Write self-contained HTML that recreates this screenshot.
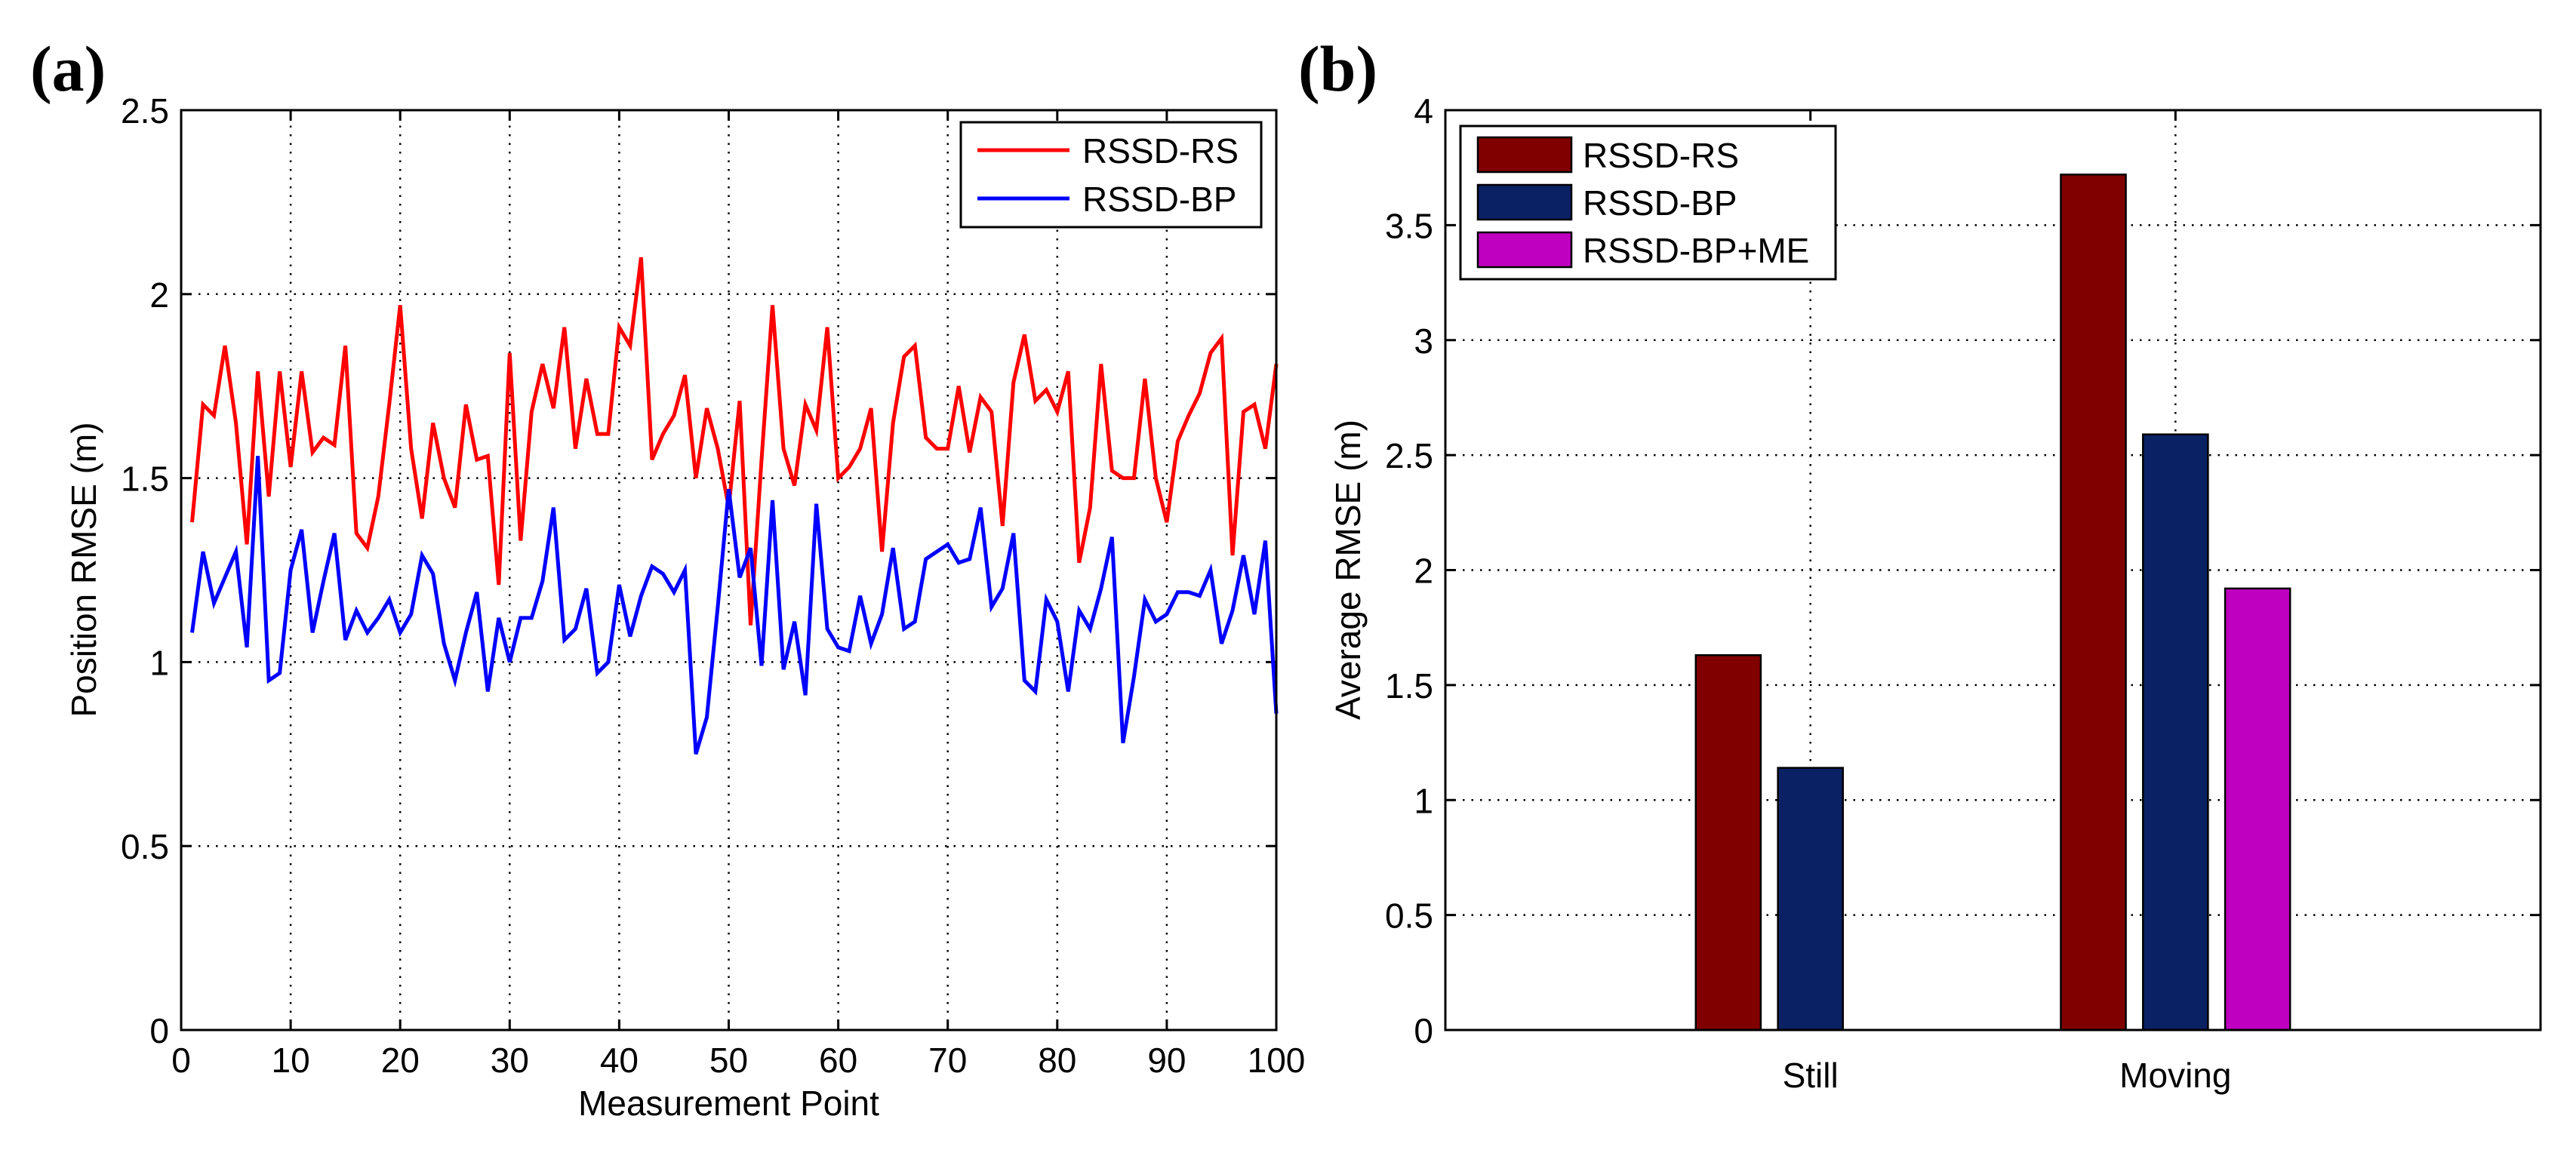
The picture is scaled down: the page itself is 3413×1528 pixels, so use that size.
<!DOCTYPE html>
<html><head><meta charset="utf-8">
<style>
html,body{margin:0;padding:0;background:#fff;}
svg{display:block;}
text{font-family:"Liberation Sans",Arial,sans-serif;fill:#000;}
.lbl{font-family:"Liberation Serif",serif;font-weight:bold;}
</style></head>
<body>
<svg id="chart" width="3413" height="1528" viewBox="0 0 3413 1528" xmlns="http://www.w3.org/2000/svg">
  <rect x="0" y="0" width="3413" height="1528" fill="#fff"/>
  <text class="lbl" x="40" y="120" font-size="86">(a)</text>
  <text class="lbl" x="1720" y="120" font-size="86">(b)</text>
  <g id="plotA"></g>
  <g id="plotB"></g>
</svg>
<script>
const pointIdx = Array.from({length:100},(_,i)=>i+1);
const rsValues = [1.38,1.70,1.67,1.86,1.65,1.32,1.79,1.45,1.79,1.53,1.79,1.57,1.61,1.59,1.86,1.35,1.31,1.45,1.70,1.97,1.58,1.39,1.65,1.50,1.42,1.70,1.55,1.56,1.21,1.84,1.33,1.68,1.81,1.69,1.91,1.58,1.77,1.62,1.62,1.91,1.86,2.10,1.55,1.62,1.67,1.78,1.50,1.69,1.58,1.42,1.71,1.10,1.55,1.97,1.58,1.48,1.70,1.63,1.91,1.50,1.53,1.58,1.69,1.30,1.65,1.83,1.86,1.61,1.58,1.58,1.75,1.57,1.72,1.68,1.37,1.76,1.89,1.71,1.74,1.68,1.79,1.27,1.42,1.81,1.52,1.50,1.50,1.77,1.50,1.38,1.60,1.67,1.73,1.84,1.88,1.29,1.68,1.70,1.58,1.81];
const bpValues = [1.08,1.30,1.16,1.23,1.30,1.04,1.56,0.95,0.97,1.25,1.36,1.08,1.22,1.35,1.06,1.14,1.08,1.12,1.17,1.08,1.13,1.29,1.24,1.05,0.95,1.08,1.19,0.92,1.12,1.00,1.12,1.12,1.22,1.42,1.06,1.09,1.20,0.97,1.00,1.21,1.07,1.18,1.26,1.24,1.19,1.25,0.75,0.85,1.15,1.47,1.23,1.31,0.99,1.44,0.98,1.11,0.91,1.43,1.09,1.04,1.03,1.18,1.05,1.13,1.31,1.09,1.11,1.28,1.30,1.32,1.27,1.28,1.42,1.15,1.20,1.35,0.95,0.92,1.17,1.11,0.92,1.14,1.09,1.20,1.34,0.78,0.96,1.17,1.11,1.13,1.19,1.19,1.18,1.25,1.05,1.14,1.29,1.13,1.33,0.86];
const xTicksA = [0,10,20,30,40,50,60,70,80,90,100];
const yTicksA = [0,0.5,1,1.5,2,2.5];
const yTickLabelsA = ["0","0.5","1","1.5","2","2.5"];

const categories = ["Still","Moving"];
const barRS = [1.63,3.72];
const barBP = [1.14,2.59];
const barME = [0,1.92];
const yTicksB = [0,0.5,1,1.5,2,2.5,3,3.5,4];
const yTickLabelsB = ["0","0.5","1","1.5","2","2.5","3","3.5","4"];

const NS="http://www.w3.org/2000/svg";
const FS=46;
function mk(parent,tag,attrs){const e=document.createElementNS(NS,tag);for(const k in attrs)e.setAttribute(k,attrs[k]);parent.appendChild(e);return e;}

// ---------- Panel A ----------
const A=document.getElementById('plotA');
const ax0=240,ax1=1691,ay0=1365,ay1=146;
const xA=v=>ax0+(v-0)/(100-0)*(ax1-ax0);
const yA=v=>ay0-(v-0)/(2.5-0)*(ay0-ay1);
const bgA=mk(A,'rect',{x:ax0,y:ay1,width:ax1-ax0,height:ay0-ay1,fill:'#fff'});


xTicksA.forEach((t,i)=>{
  const x=xA(t);
  if(t>0&&t<100){const g=mk(A,'line',{x1:x,y1:ay0,x2:x,y2:ay1,stroke:'#000','stroke-width':2.5,'stroke-dasharray':'2.5 9'});
  
  }
  mk(A,'line',{x1:x,y1:ay0,x2:x,y2:ay0-14,stroke:'#000','stroke-width':3});
  mk(A,'line',{x1:x,y1:ay1,x2:x,y2:ay1+14,stroke:'#000','stroke-width':3});
  const tx=mk(A,'text',{x:x,y:ay0+56,'font-size':FS,'text-anchor':'middle'});tx.textContent=t;
  
  
});
yTicksA.forEach((t,i)=>{
  const y=yA(t);
  if(t>0&&t<2.5){const g=mk(A,'line',{x1:ax0,y1:y,x2:ax1,y2:y,stroke:'#000','stroke-width':2.5,'stroke-dasharray':'2.5 9'});
  
  }
  mk(A,'line',{x1:ax0,y1:y,x2:ax0+14,y2:y,stroke:'#000','stroke-width':3});
  mk(A,'line',{x1:ax1,y1:y,x2:ax1-14,y2:y,stroke:'#000','stroke-width':3});
  const tx=mk(A,'text',{x:ax0-16,y:y+17,'font-size':FS,'text-anchor':'end'});tx.textContent=yTickLabelsA[i];
  
  
});
function series(vals,color,name){
  const d=vals.map((v,i)=>(i?'L':'M')+xA(pointIdx[i]).toFixed(1)+' '+yA(v).toFixed(1)).join(' ');
  const p=mk(A,'path',{d:d,fill:'none',stroke:color,'stroke-width':5,'stroke-linejoin':'miter'});
  
  
}
series(rsValues,'#ff0000','line-rssd-rs');
series(bpValues,'#0000ff','line-rssd-bp');
const boxA=mk(A,'rect',{x:ax0,y:ay1,width:ax1-ax0,height:ay0-ay1,fill:'none',stroke:'#000','stroke-width':3});


const xl=mk(A,'text',{x:(ax0+ax1)/2,y:1478,'font-size':FS,'text-anchor':'middle'});xl.textContent='Measurement Point';


const yl=mk(A,'text',{x:0,y:0,'font-size':FS,'text-anchor':'middle',transform:'translate(127,755) rotate(-90)'});yl.textContent='Position RMSE (m)';


// legend A
const legA=mk(A,'g',{});


mk(legA,'rect',{x:1273,y:162,width:398,height:139,fill:'#fff',stroke:'#000','stroke-width':3});
[['RSSD-RS','#ff0000',199],['RSSD-BP','#0000ff',263]].forEach(([n,c,y])=>{
  const g=mk(legA,'g',{});
  
  
  mk(g,'line',{x1:1295,y1:y,x2:1417,y2:y,stroke:c,'stroke-width':5});
  const t=mk(g,'text',{x:1434,y:y+17,'font-size':FS});t.textContent=n;
});

// ---------- Panel B ----------
const B=document.getElementById('plotB');
const bx0=1915,bx1=3366,by0=1365,by1=146;
const xB=v=>bx0+(v-0)/(3-0)*(bx1-bx0);
const yB=v=>by0-(v-0)/(4-0)*(by0-by1);
yTicksB.forEach((t,i)=>{
  const y=yB(t);
  if(t>0&&t<4){const g=mk(B,'line',{x1:bx0,y1:y,x2:bx1,y2:y,stroke:'#000','stroke-width':2.5,'stroke-dasharray':'2.5 9'});
  
  }
  mk(B,'line',{x1:bx0,y1:y,x2:bx0+14,y2:y,stroke:'#000','stroke-width':3});
  mk(B,'line',{x1:bx1,y1:y,x2:bx1-14,y2:y,stroke:'#000','stroke-width':3});
  const tx=mk(B,'text',{x:bx0-16,y:y+17,'font-size':FS,'text-anchor':'end'});tx.textContent=yTickLabelsB[i];
  
  
});
categories.forEach((c,i)=>{
  const x=xB(i+1);
  const g=mk(B,'line',{x1:x,y1:by0,x2:x,y2:by1,stroke:'#000','stroke-width':2.5,'stroke-dasharray':'2.5 9'});
  
  
  mk(B,'line',{x1:x,y1:by0,x2:x,y2:by0-14,stroke:'#000','stroke-width':3});
  mk(B,'line',{x1:x,y1:by1,x2:x,y2:by1+14,stroke:'#000','stroke-width':3});
  const tx=mk(B,'text',{x:x,y:by0+76,'font-size':FS,'text-anchor':'middle'});tx.textContent=c;
  
  
});
const seriesB=[[barRS,'#800000','bar-rssd-rs',-0.225],[barBP,'#0a2164','bar-rssd-bp',0],[barME,'#c000c0','bar-rssd-bp-me',0.225]];
const bw=0.178;
seriesB.forEach(([vals,col,name,off])=>{
  vals.forEach((v,i)=>{
    if(v<=0)return;
    const xl_=xB(i+1+off-bw/2), xr=xB(i+1+off+bw/2);
    const r=mk(B,'rect',{x:xl_,y:yB(v),width:xr-xl_,height:yB(0)-yB(v),fill:col,stroke:'#000','stroke-width':2.5});
    
    
  });
});
const boxB=mk(B,'rect',{x:bx0,y:by1,width:bx1-bx0,height:by0-by1,fill:'none',stroke:'#000','stroke-width':3});


const ylb=mk(B,'text',{x:0,y:0,'font-size':FS,'text-anchor':'middle',transform:'translate(1802,755) rotate(-90)'});ylb.textContent='Average RMSE (m)';


const legB=mk(B,'g',{});


mk(legB,'rect',{x:1935,y:167,width:497,height:203,fill:'#fff',stroke:'#000','stroke-width':3});
[['RSSD-RS','#800000',205],['RSSD-BP','#0a2164',268],['RSSD-BP+ME','#c000c0',331]].forEach(([n,c,y])=>{
  const g=mk(legB,'g',{});
  
  
  mk(g,'rect',{x:1958,y:y-23,width:124,height:46,fill:c,stroke:'#000','stroke-width':2.5});
  const t=mk(g,'text',{x:2097,y:y+17,'font-size':FS});t.textContent=n;
});
</script>
</body></html>
